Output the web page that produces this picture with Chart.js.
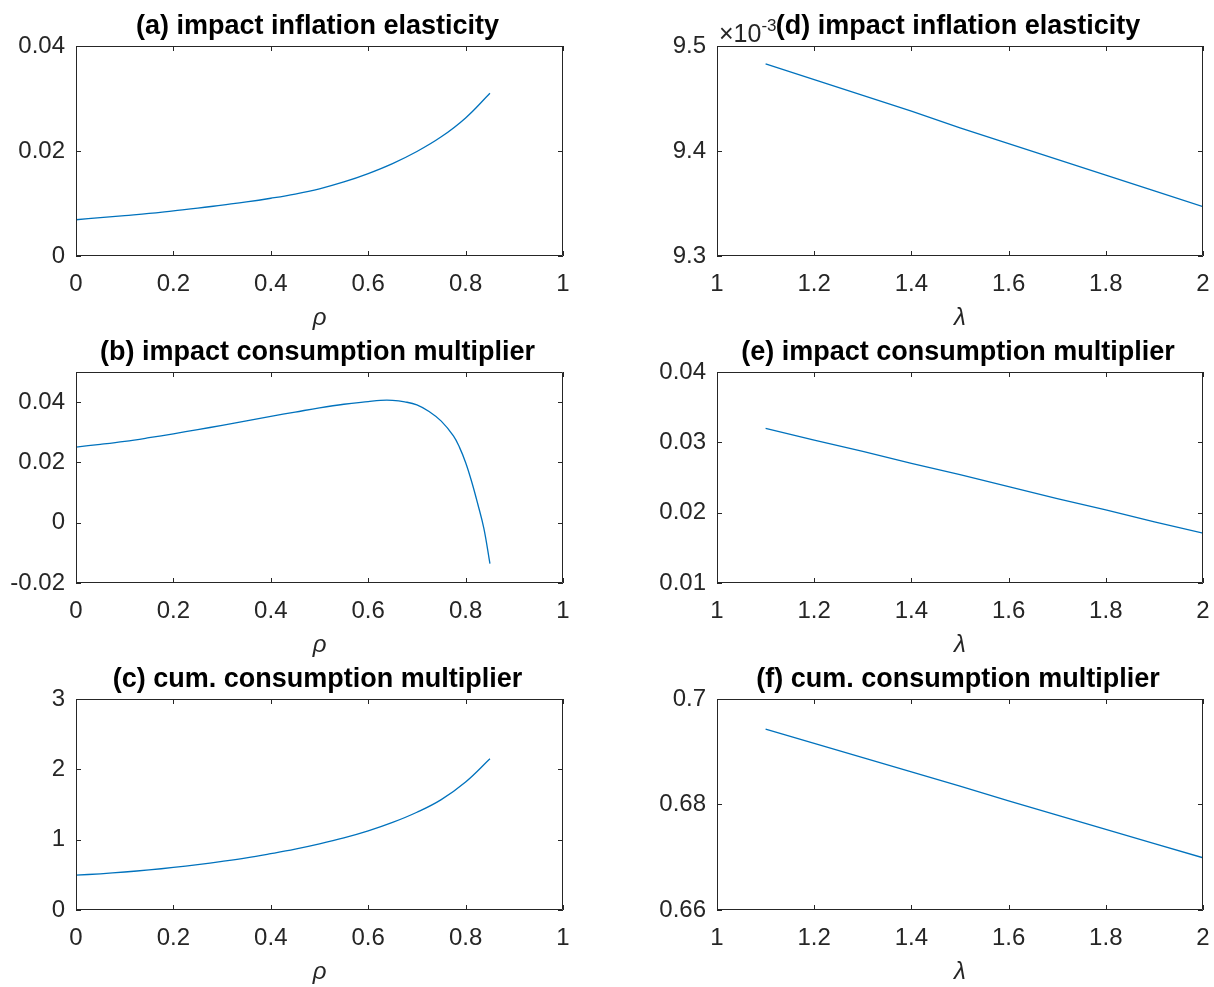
<!DOCTYPE html>
<html lang="en">
<head>
    <meta charset="UTF-8">
    <title>Impact elasticities and multipliers</title>
    <script src="https://cdn.jsdelivr.net/npm/chart.js"></script>
    <style>
        body {
            margin: 0;
            background: #fff;
            width: 1214px;
            height: 987px;
            position: relative;
            overflow: hidden;
        }
        canvas {
            position: absolute;
        }
    </style>
</head>
<body>
    <canvas id="pa"></canvas>
    <canvas id="pb"></canvas>
    <canvas id="pc"></canvas>
    <canvas id="pd"></canvas>
    <canvas id="pe"></canvas>
    <canvas id="pf"></canvas>

<script>
// left column: against rho
const rho      = [0, 0.05, 0.1, 0.15, 0.2, 0.25, 0.3, 0.35, 0.4, 0.45, 0.5, 0.55, 0.6, 0.65, 0.7, 0.75, 0.8, 0.85];
const inflRho  = [0.0069, 0.0073, 0.0077, 0.0081, 0.0086, 0.0091, 0.0097, 0.0103, 0.0110, 0.0118, 0.0128, 0.0141, 0.0157, 0.0176, 0.0199, 0.0227, 0.0263, 0.0310];
const cumRho   = [0.495, 0.515, 0.54, 0.57, 0.605, 0.645, 0.69, 0.74, 0.80, 0.865, 0.94, 1.025, 1.125, 1.245, 1.39, 1.57, 1.82, 2.15];
const rhoB     = [0, 0.05, 0.1, 0.15, 0.2, 0.25, 0.3, 0.35, 0.4, 0.45, 0.5, 0.55, 0.6, 0.625, 0.65, 0.675, 0.7, 0.725, 0.75, 0.775, 0.7875, 0.8, 0.8125, 0.825, 0.8375, 0.85];
const consRho  = [0.0251, 0.0260, 0.0270, 0.0282, 0.0295, 0.0309, 0.0323, 0.0338, 0.0353, 0.0367, 0.0381, 0.0393, 0.0402, 0.0406, 0.0406, 0.0401, 0.0391, 0.0369, 0.0337, 0.0288, 0.0250, 0.0200, 0.0136, 0.0062, -0.0019, -0.0136];

// right column: against lambda
const lam      = [1.1, 1.2, 1.3, 1.4, 1.5, 1.6, 1.7, 1.8, 1.9, 2.0];
const inflLam  = [0.009483, 0.009468, 0.009453, 0.009438, 0.009422, 0.009407, 0.009392, 0.009377, 0.009362, 0.009347];
const consLam  = [0.0320, 0.0303, 0.0287, 0.0270, 0.0254, 0.0237, 0.0220, 0.0204, 0.0187, 0.0171];
const cumLam   = [0.6943, 0.6916, 0.6889, 0.6862, 0.6835, 0.6807, 0.6780, 0.6753, 0.6726, 0.6699];

// tick values
const rhoTicks = [0, 0.2, 0.4, 0.6, 0.8, 1];
const lamTicks = [1, 1.2, 1.4, 1.6, 1.8, 2];
const yTicksA  = [0, 0.02, 0.04];
const yTicksB  = [-0.02, 0, 0.02, 0.04];
const yTicksC  = [0, 1, 2, 3];
const yTicksD  = [0.0093, 0.0094, 0.0095];
const yTicksE  = [0.01, 0.02, 0.03, 0.04];
const yTicksF  = [0.66, 0.68, 0.7];

const FONT = "'Liberation Sans', Arial, Helvetica, sans-serif";
const AXIS_COLOR = '#262626';
const LINE_COLOR = '#0072BD';

// layout of the 3x2 grid (page pixels); canvases run 30px past the box on the right
const cols = [
    {start: 0,   L: 76,  R: 563},
    {start: 607, L: 717, R: 1203}
];
const rows = [
    {T: 46,  B: 256},
    {T: 372, B: 583},
    {T: 699, B: 910}
];

const panels = [
    {id: 'pa', col: 0, row: 0, title: '(a) impact inflation elasticity', xs: rho, ys: inflRho, xTicks: rhoTicks, xMin: 0, xMax: 1, yTicks: yTicksA, yMin: 0, yMax: 0.04, xLabel: 'ρ', smooth: true},
    {id: 'pb', col: 0, row: 1, title: '(b) impact consumption multiplier', xs: rhoB, ys: consRho, xTicks: rhoTicks, xMin: 0, xMax: 1, yTicks: yTicksB, yMin: -0.02, yMax: 0.05, xLabel: 'ρ', smooth: true},
    {id: 'pc', col: 0, row: 2, title: '(c) cum. consumption multiplier', xs: rho, ys: cumRho, xTicks: rhoTicks, xMin: 0, xMax: 1, yTicks: yTicksC, yMin: 0, yMax: 3, xLabel: 'ρ', smooth: true},
    {id: 'pd', col: 1, row: 0, title: '(d) impact inflation elasticity', xs: lam, ys: inflLam, xTicks: lamTicks, xMin: 1, xMax: 2, yTicks: yTicksD, yMin: 0.0093, yMax: 0.0095, xLabel: 'λ', scale: 1e3, exponent: '-3'},
    {id: 'pe', col: 1, row: 1, title: '(e) impact consumption multiplier', xs: lam, ys: consLam, xTicks: lamTicks, xMin: 1, xMax: 2, yTicks: yTicksE, yMin: 0.01, yMax: 0.04, xLabel: 'λ'},
    {id: 'pf', col: 1, row: 2, title: '(f) cum. consumption multiplier', xs: lam, ys: cumLam, xTicks: lamTicks, xMin: 1, xMax: 2, yTicks: yTicksF, yMin: 0.66, yMax: 0.7, xLabel: 'λ'}
];

function fmt(v) {
    return Number(v.toFixed(6)).toString();
}

// box, inward ticks on all four sides, bold title, exponent note
const matlabAxes = {
    id: 'matlabAxes',
    afterDraw(chart, args, opts) {
        const ctx = chart.ctx;
        const a = chart.chartArea;
        const xs = chart.scales.x, ys = chart.scales.y;
        ctx.save();
        ctx.strokeStyle = AXIS_COLOR;
        ctx.lineWidth = 1;
        ctx.beginPath();
        ctx.rect(a.left + 0.5, a.top + 0.5, a.right - a.left - 1, a.bottom - a.top - 1);
        xs.ticks.forEach(t => {
            const px = Math.round(xs.getPixelForValue(t.value)) + 0.5;
            ctx.moveTo(px, a.bottom); ctx.lineTo(px, a.bottom - 5);
            ctx.moveTo(px, a.top); ctx.lineTo(px, a.top + 5);
        });
        ys.ticks.forEach(t => {
            const py = Math.round(ys.getPixelForValue(t.value)) + 0.5;
            ctx.moveTo(a.left, py); ctx.lineTo(a.left + 5, py);
            ctx.moveTo(a.right, py); ctx.lineTo(a.right - 5, py);
        });
        ctx.stroke();

        if (opts.exponent) {
            ctx.fillStyle = AXIS_COLOR;
            ctx.textAlign = 'left';
            ctx.textBaseline = 'alphabetic';
            ctx.font = '25px ' + FONT;
            ctx.fillText('×10', a.left + 2, a.top - 4);
            const w = ctx.measureText('×10').width;
            ctx.font = '17px ' + FONT;
            ctx.fillText(opts.exponent, a.left + 2 + w, a.top - 15);
        }

        ctx.fillStyle = '#000';
        ctx.textAlign = 'center';
        ctx.textBaseline = 'alphabetic';
        ctx.font = 'bold 27px ' + FONT;
        ctx.fillText(opts.title, (a.left + a.right) / 2 - 2, a.top - 12);
        ctx.restore();
    }
};

panels.forEach(p => {
    const c = cols[p.col], r = rows[p.row];
    const canvas = document.getElementById(p.id);
    const top = r.T - 46;
    const height = (r.B + 76) - top;
    canvas.width = (c.R + 30) - c.start;
    canvas.height = height;
    canvas.style.left = c.start + 'px';
    canvas.style.top = top + 'px';

    const k = p.scale || 1;
    new Chart(canvas, {
        type: 'line',
        data: {
            datasets: [{
                data: p.xs.map((x, i) => ({x: x, y: p.ys[i]})),
                borderColor: LINE_COLOR,
                borderWidth: 1.3,
                pointRadius: 0,
                fill: false,
                tension: p.smooth ? 0.4 : 0
            }]
        },
        options: {
            responsive: false,
            animation: false,
            devicePixelRatio: 1,
            layout: {padding: {top: 46, right: 30, left: 0, bottom: 0}},
            plugins: {
                legend: {display: false},
                tooltip: {enabled: false},
                matlabAxes: {title: p.title, exponent: p.exponent}
            },
            scales: {
                x: {
                    type: 'linear',
                    min: p.xMin,
                    max: p.xMax,
                    grid: {display: false, drawTicks: false},
                    border: {display: false},
                    ticks: {
                        color: AXIS_COLOR,
                        font: {family: FONT, size: 24},
                        padding: 14,
                        maxRotation: 0,
                        autoSkip: false,
                        callback: v => fmt(v)
                    },
                    title: {
                        display: true,
                        text: p.xLabel,
                        color: AXIS_COLOR,
                        font: {family: FONT, size: 24, style: 'italic', lineHeight: 1},
                        padding: {top: 0, bottom: 2}
                    },
                    afterBuildTicks: s => { s.ticks = p.xTicks.map(v => ({value: v})); },
                    afterFit: s => { s.height = 76; }
                },
                y: {
                    type: 'linear',
                    min: p.yMin,
                    max: p.yMax,
                    grid: {display: false, drawTicks: false},
                    border: {display: false},
                    ticks: {
                        color: AXIS_COLOR,
                        font: {family: FONT, size: 24},
                        padding: 11,
                        autoSkip: false,
                        callback: v => fmt(v * k)
                    },
                    afterBuildTicks: s => { s.ticks = p.yTicks.map(v => ({value: v})); },
                    afterFit: s => { s.width = c.L - c.start; }
                }
            }
        },
        plugins: [matlabAxes]
    });
});
</script>
</body>
</html>
